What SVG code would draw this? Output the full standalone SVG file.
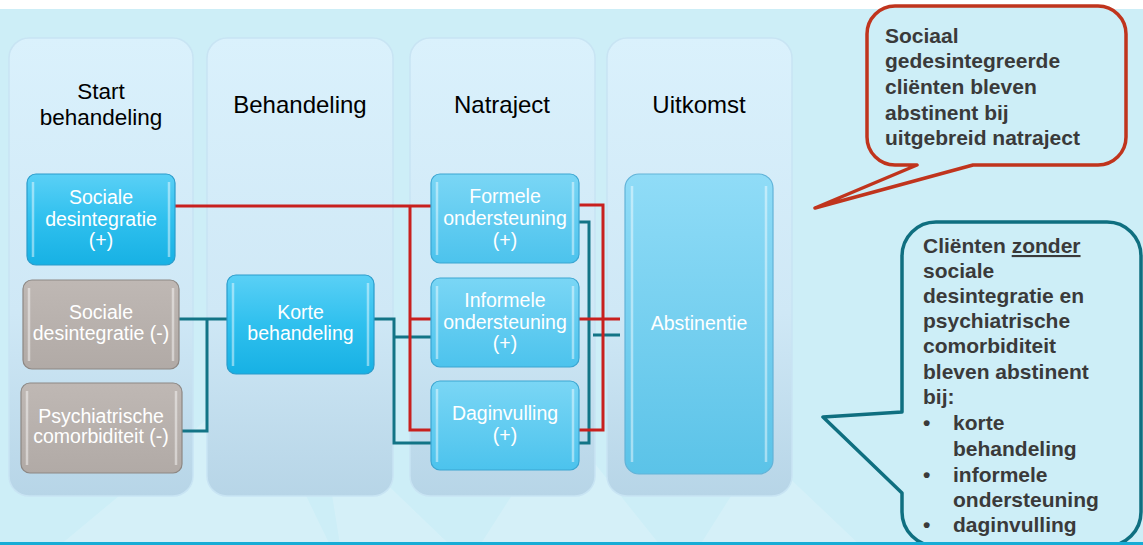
<svg xmlns="http://www.w3.org/2000/svg" width="1143" height="545" viewBox="0 0 1143 545">
<defs>
<linearGradient id="gPanel" x1="0" y1="0" x2="0" y2="1">
<stop offset="0" stop-color="#daf1fc"/><stop offset="0.6" stop-color="#cfe8f6"/><stop offset="1" stop-color="#b7d5e7"/>
</linearGradient>
<linearGradient id="gBlueA" x1="0" y1="0" x2="0" y2="1">
<stop offset="0" stop-color="#5ad0f6"/><stop offset="0.5" stop-color="#2fc0ee"/><stop offset="1" stop-color="#17b1e4"/>
</linearGradient>
<linearGradient id="gBlueB" x1="0" y1="0" x2="0" y2="1">
<stop offset="0" stop-color="#7ad6f5"/><stop offset="1" stop-color="#4cc3ed"/>
</linearGradient>
<linearGradient id="gBlueC" x1="0" y1="0" x2="0" y2="1">
<stop offset="0" stop-color="#90dcf7"/><stop offset="1" stop-color="#5bc3e8"/>
</linearGradient>
<linearGradient id="gGray" x1="0" y1="0" x2="0" y2="1">
<stop offset="0" stop-color="#bfb8b4"/><stop offset="1" stop-color="#b1aaa6"/>
</linearGradient>
<style>
.panel{fill:url(#gPanel);stroke:#c8e4f3;stroke-width:1.5}
.hdr{font-family:"Liberation Sans",Arial,sans-serif;font-size:24px;fill:#000;text-anchor:middle}
.hdr2{font-family:"Liberation Sans",Arial,sans-serif;font-size:22.5px;fill:#000;text-anchor:middle}
.nt{font-family:"Liberation Sans",Arial,sans-serif;font-size:19.5px;fill:#fff;text-anchor:middle}
.nA{fill:url(#gBlueA);stroke:#2a9ccb;stroke-width:1.2}
.nB{fill:url(#gBlueB);stroke:#3aa6d2;stroke-width:1.2}
.nC{fill:url(#gBlueC);stroke:#62b3d8;stroke-width:1.2}
.nG{fill:url(#gGray);stroke:#8d8783;stroke-width:1.2}
.hl{stroke:#ffffff;stroke-opacity:0.45;stroke-width:2.5;fill:none}
.red{fill:none;stroke:#c8201e;stroke-width:3}
.teal{fill:none;stroke:#127486;stroke-width:3}
.ct{font-family:"Liberation Sans",Arial,sans-serif;font-size:21px;font-weight:bold;fill:#3a3a3a}
</style>
</defs>
<rect x="0" y="0" width="1143" height="545" fill="#ffffff"/>
<rect x="0" y="9" width="1143" height="536" fill="#cdeef7"/>
<g fill="#ffffff" fill-opacity="0.16">
<polygon points="60,545 150,470 250,380 330,545"/>
<polygon points="340,545 320,420 450,545"/>
<polygon points="480,545 560,420 660,545"/>
<polygon points="700,545 760,450 860,545"/>
</g>
<g id="panels">
<rect class="panel" x="9" y="38" width="184" height="458" rx="20"/>
<rect class="panel" x="207" y="38" width="186" height="458" rx="20"/>
<rect class="panel" x="410" y="38" width="185" height="458" rx="20"/>
<rect class="panel" x="607" y="38" width="185" height="458" rx="20"/>
</g>
<g id="headers">
<text class="hdr2" x="101" y="99">Start</text>
<text class="hdr2" x="101" y="125">behandeling</text>
<text class="hdr" x="300" y="113">Behandeling</text>
<text class="hdr" x="502" y="113">Natraject</text>
<text class="hdr" x="699" y="113">Uitkomst</text>
</g>
<g id="connectors">
<path class="teal" d="M179,319 H227"/>
<path class="teal" d="M182,431 H207 V319"/>
<path class="teal" d="M374,319 H394 V443 H431"/>
<path class="teal" d="M394,337 H431"/>
<path class="teal" d="M578,222 H589 V443 H578"/>
<path class="teal" d="M593,335 H620"/>
<path class="red" d="M175,206 H431"/>
<path class="red" d="M410,206 V430 H431"/>
<path class="red" d="M410,319 H431"/>
<path class="red" d="M578,205 H603 V430 H578"/>
<path class="red" d="M577,319 H620"/>
</g>
<g id="node-sociale-plus">
<rect class="nA" x="27" y="174" width="148" height="91" rx="9"/>
<path class="hl" d="M33,182 V257 M169,182 V257"/>
<text class="nt" x="101" y="204">Sociale</text>
<text class="nt" x="101" y="226">desintegratie</text>
<text class="nt" x="101" y="247">(+)</text>
</g>
<g id="node-sociale-min">
<rect class="nG" x="23" y="280" width="156" height="89" rx="9"/>
<path class="hl" d="M29,288 V361 M173,288 V361"/>
<text class="nt" x="101" y="319">Sociale</text>
<text class="nt" x="101" y="340">desintegratie (-)</text>
</g>
<g id="node-psych">
<rect class="nG" x="21" y="383" width="161" height="90" rx="9"/>
<path class="hl" d="M27,391 V465 M176,391 V465"/>
<text class="nt" x="101" y="423">Psychiatrische</text>
<text class="nt" x="101" y="443">comorbiditeit (-)</text>
</g>
<g id="node-korte">
<rect class="nA" x="227" y="275" width="147" height="99" rx="9"/>
<path class="hl" d="M233,283 V366 M368,283 V366"/>
<text class="nt" x="300.5" y="319">Korte</text>
<text class="nt" x="300.5" y="340">behandeling</text>
</g>
<g id="node-formele">
<rect class="nB" x="431" y="174" width="148" height="89" rx="9"/>
<path class="hl" d="M437,182 V255 M573,182 V255"/>
<text class="nt" x="505" y="203">Formele</text>
<text class="nt" x="505" y="225">ondersteuning</text>
<text class="nt" x="505" y="247">(+)</text>
</g>
<g id="node-informele">
<rect class="nB" x="431" y="278" width="148" height="89" rx="9"/>
<path class="hl" d="M437,286 V359 M573,286 V359"/>
<text class="nt" x="505" y="307">Informele</text>
<text class="nt" x="505" y="329">ondersteuning</text>
<text class="nt" x="505" y="350">(+)</text>
</g>
<g id="node-daginvulling">
<rect class="nB" x="431" y="381" width="148" height="89" rx="9"/>
<path class="hl" d="M437,389 V462 M573,389 V462"/>
<text class="nt" x="505" y="420">Daginvulling</text>
<text class="nt" x="505" y="442">(+)</text>
</g>
<g id="node-abstinentie">
<rect class="nC" x="625" y="174" width="148" height="300" rx="14"/>
<path class="hl" d="M632,186 V462 M766,186 V462"/>
<text class="nt" x="699" y="330">Abstinentie</text>
</g>
<g id="callout-red">
<path d="M895,6 H1098 A28,28 0 0 1 1126,34 V137 A28,28 0 0 1 1098,165 H973 L815,208 L917,165 H895 A28,28 0 0 1 867,137 V34 A28,28 0 0 1 895,6 Z" fill="#cdeef7" stroke="#c0341d" stroke-width="3.5" stroke-linejoin="round"/>
<text class="ct" x="885" y="43">Sociaal</text>
<text class="ct" x="885" y="68">gedesintegreerde</text>
<text class="ct" x="885" y="94">cliënten bleven</text>
<text class="ct" x="885" y="120">abstinent bij</text>
<text class="ct" x="885" y="145">uitgebreid natraject</text>
</g>
<g id="callout-teal">
<path d="M936,222 H1107 A34,34 0 0 1 1141,256 V512 A34,34 0 0 1 1107,546 H936 A34,34 0 0 1 902,512 V493 L823,417 L902,412 V256 A34,34 0 0 1 936,222 Z" fill="#cdeef7" stroke="#0f6f80" stroke-width="3.5" stroke-linejoin="round"/>
<text class="ct" x="923" y="253">Cliënten <tspan text-decoration="underline">zonder</tspan></text>
<text class="ct" x="923" y="278">sociale</text>
<text class="ct" x="923" y="303">desintegratie en</text>
<text class="ct" x="923" y="328">psychiatrische</text>
<text class="ct" x="923" y="353">comorbiditeit</text>
<text class="ct" x="923" y="379">bleven abstinent</text>
<text class="ct" x="923" y="404">bij:</text>
<text class="ct" x="923" y="430">•</text>
<text class="ct" x="953" y="430">korte</text>
<text class="ct" x="953" y="456">behandeling</text>
<text class="ct" x="923" y="482">•</text>
<text class="ct" x="953" y="482">informele</text>
<text class="ct" x="953" y="507">ondersteuning</text>
<text class="ct" x="923" y="532">•</text>
<text class="ct" x="953" y="532">daginvulling</text>
</g>
<rect x="0" y="542" width="1143" height="3" fill="#17acd6"/>
</svg>
